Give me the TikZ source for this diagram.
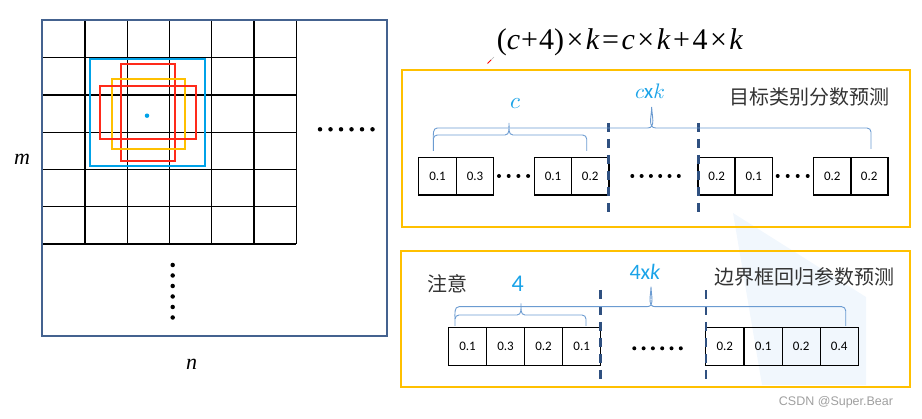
\documentclass[tikz,border=0pt]{standalone}
\usepackage{fontspec}
\newfontfamily\cjk{Noto Sans CJK SC}
\newfontfamily\carl{Carlito}
\newfontfamily\wmfont{Liberation Sans}
\newfontfamily\tms{Liberation Serif}
\definecolor{frameblue}{HTML}{44628F}
\definecolor{cyanbox}{HTML}{00A2E8}
\definecolor{redbox}{HTML}{FF2A1A}
\definecolor{yelbox}{HTML}{FFC000}
\definecolor{orangebox}{HTML}{FFC000}
\definecolor{dashblue}{HTML}{2F5080}
\definecolor{braceblue}{HTML}{6B9BD1}
\definecolor{cyantext}{HTML}{1AA3E8}
\definecolor{paleblue}{HTML}{F1F7FD}
\definecolor{txtgray}{HTML}{333333}
\tikzset{
  gridline/.style={black, line width=1.2pt},
  anchorbox/.style={line width=2pt},
  cell/.style={draw=black, line width=1.3pt, minimum width=37.5pt, minimum height=37.7pt, inner sep=0pt, font=\carl\fontsize{13}{13}\selectfont},
  bcell/.style={cell, minimum width=38pt, minimum height=38.4pt},
  dotmark/.style={fill=black, circle, inner sep=0pt, minimum size=4pt},
  sep/.style={dashblue, line width=2.5pt, dash pattern=on 9pt off 7pt},
  bracel/.style={braceblue, line width=0.9pt},
  panel/.style={orangebox, line width=2pt},
  cjklabel/.style={txtgray, font=\cjk\fontsize{20}{20}\selectfont, inner sep=0pt},
}
\newcommand{\op}[1]{\hspace{2.5pt}#1\hspace{2.5pt}}
\begin{document}
\begin{tikzpicture}[x=1pt,y=-1pt]
\useasboundingbox (0,0) rectangle (922,419);
% faint background shape
\fill[paleblue] (733,213) -- (866,297) -- (866,385) -- (762,385) -- cycle;
% ---- left grid ----
\foreach \x in {42.7,85,127.3,169.7,211.7,254,296.3} \draw[gridline] (\x,20) -- (\x,244);
\foreach \y in {20,57.3,95,132.3,169.3,206.7,244} \draw[gridline] (42.7,\y) -- (296.3,\y);
\draw[frameblue, line width=2pt] (41.7,20) rectangle (386.7,335.7);
\draw[anchorbox, cyanbox] (90.3,59.3) rectangle (204.7,165.7);
\draw[anchorbox, redbox] (121,64.3) rectangle (174.7,161.3);
\draw[anchorbox, yelbox] (112.3,78.7) rectangle (185,148.7);
\draw[anchorbox, redbox] (99.7,86) rectangle (195.7,139.3);
\node[fill=cyanbox, circle, inner sep=0pt, minimum size=4.5pt] (ctr) at (147,115.7) {};
\foreach \i in {0,...,5} \node[dotmark, minimum size=4.5pt] (hd\i) at (320+10.5*\i,129.3) {};
\foreach \i in {0,...,5} \node[dotmark, minimum size=4.5pt] (vd\i) at (172.7,265+10.5*\i) {};
\node[font=\tms\itshape\fontsize{22}{22}\selectfont] (mlab) at (22,159) {m};
\node[font=\tms\itshape\fontsize{22}{22}\selectfont] (nlab) at (191.7,364) {n};
% ---- formula ----
\node[font=\tms\fontsize{30}{30}\selectfont] (formula) at (620,42)
  {(\textit{c}\hspace{1pt}+\hspace{1pt}4)\op{×}\textit{k}\op{=}\textit{c}\op{×}\textit{k}\op{+}4\op{×}\textit{k}};
\draw[red, line width=0.8pt] (487.5,63.5) -- (491,60);
\draw[gray!60, line width=0.5pt] (491,60) -- (494,57);
% ---- top panel ----
\draw[panel] (402.3,70) rectangle (910,226.7);
\node[cjklabel] (t1) at (809,96.7) {目标类别分数预测};
\node[cell] (a1) at (437.5,176.2) {0.1};
\node[cell] (a2) at (475,176.2) {0.3};
\node[cell] (a3) at (553,176.2) {0.1};
\node[cell] (a4) at (590.2,176.2) {0.2};
\node[cell] (a5) at (716.7,176.2) {0.2};
\node[cell] (a6) at (753.8,176.2) {0.1};
\node[cell] (a7) at (832.3,176.2) {0.2};
\node[cell] (a8) at (869.2,176.2) {0.2};
\foreach \i in {0,...,3} \node[dotmark] (ad\i) at (499+9.7*\i,176) {};
\foreach \i in {0,...,5} \node[dotmark] (am\i) at (632.3+9.3*\i,176) {};
\foreach \i in {0,...,3} \node[dotmark] (ae\i) at (777.7+10*\i,176) {};
\draw[sep] (608.5,123) -- (608.5,217);
\draw[sep] (698.3,123) -- (698.3,217);
% braces top
\draw[bracel] (433.3,151) -- (433.3,139) to[out=90,in=180] (437.3,135) -- (505,135)
  to[out=0,in=270] (509,123) to[out=270,in=180] (513,135) -- (582.7,135)
  to[out=0,in=90] (586.7,139) -- (586.7,151);
\draw[bracel] (433.3,139) to[out=90,in=180] (437.3,128) -- (647.7,128)
  to[out=0,in=270] (651.7,107) to[out=270,in=180] (655.7,128) -- (867,128)
  to[out=0,in=90] (871,132) -- (871,149);
\node[cyantext, scale=2.3] (clab) at (515,104) {$c$};
\node[cyantext, scale=2.1] (cklab) at (650,91) {$c$\carl x$k$};
% ---- bottom panel ----
\draw[panel] (401,250.7) rectangle (910,387.3);
\node[cjklabel] (t2) at (804,276.7) {边界框回归参数预测};
\node[cjklabel] (note) at (447,283.3) {注意};
\node[bcell] (b1) at (467.5,346.5) {0.1};
\node[bcell] (b2) at (505.5,346.5) {0.3};
\node[bcell] (b3) at (543.5,346.5) {0.2};
\node[bcell] (b4) at (581.7,346.5) {0.1};
\node[bcell] (b5) at (724.8,346.5) {0.2};
\node[bcell] (b6) at (763.2,346.5) {0.1};
\node[bcell] (b7) at (801.2,346.5) {0.2};
\node[bcell] (b8) at (839.2,346.5) {0.4};
\foreach \i in {0,...,5} \node[dotmark] (bm\i) at (634.3+9.3*\i,348.3) {};
\draw[sep] (600.5,290) -- (600.5,382);
\draw[sep] (706,290) -- (706,382);
\draw[bracel] (455,326) -- (455,319) to[out=90,in=180] (459,315) -- (517,315)
  to[out=0,in=270] (521,303.3) to[out=270,in=180] (525,315) -- (582,315)
  to[out=0,in=90] (586,319) -- (586,326);
\draw[bracel] (455,319) to[out=90,in=180] (459,306.7) -- (647,306.7)
  to[out=0,in=270] (651,286.7) to[out=270,in=180] (655,306.7) -- (841.7,306.7)
  to[out=0,in=90] (845.7,310.7) -- (845.7,326);
\node[cyantext, font=\carl\fontsize{24}{24}\selectfont] (flab) at (517.7,283.3) {4};
\node[cyantext, font=\carl\fontsize{22}{22}\selectfont] (fklab) at (645,271.7) {4x\textit{k}};
% watermark
\node[gray!75, font=\wmfont\fontsize{12.5}{12.5}\selectfont] (wm) at (836,402.3) {CSDN @Super.Bear};
\end{tikzpicture}
\end{document}
